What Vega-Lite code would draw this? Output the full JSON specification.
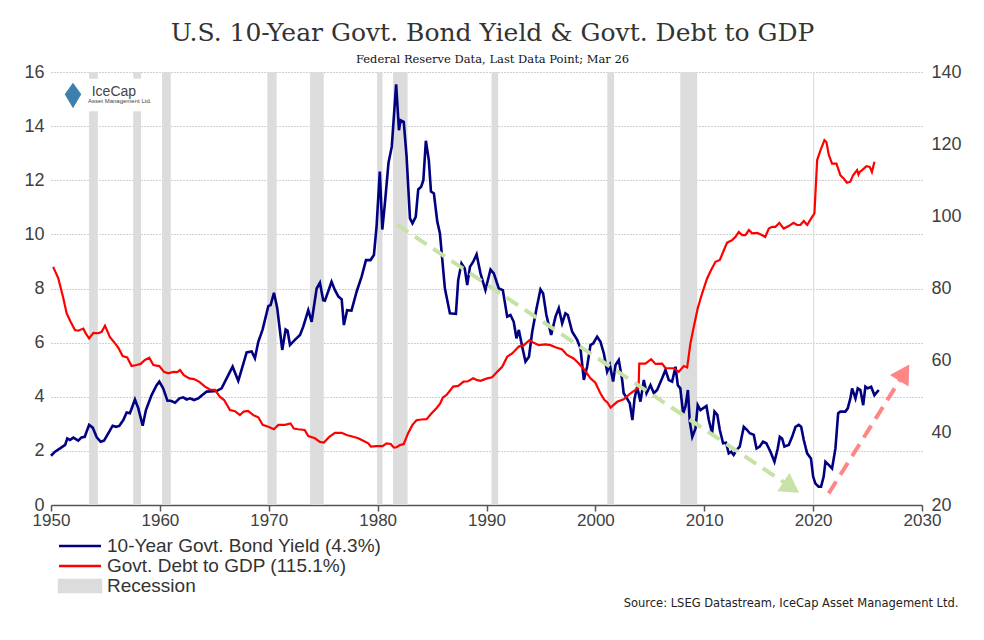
{
  "$schema": "https://vega.github.io/schema/vega-lite/v6.json",
  "width": 871,
  "height": 433,
  "autosize": "none",
  "padding": {"left": 51, "top": 72, "right": 62, "bottom": 135},
  "background": "white",
  "title": {
    "text": "U.S. 10-Year Govt. Bond Yield & Govt. Debt to GDP",
    "subtitle": "Federal Reserve Data, Last Data Point; Mar 26",
    "font": "DejaVu Serif",
    "fontSize": 25,
    "fontWeight": "normal",
    "color": "#333333",
    "subtitleFont": "DejaVu Serif",
    "subtitleFontSize": 11.5,
    "subtitleColor": "#111111",
    "subtitlePadding": 8,
    "anchor": "middle",
    "offset": -2,
    "dx": 6
  },
  "config": {"view": {"stroke": null}, "font": "Liberation Sans"},
  "datasets": {
    "recession": [
      {"start": 1953.5, "end": 1954.3},
      {"start": 1957.55, "end": 1958.27},
      {"start": 1960.2, "end": 1961.0},
      {"start": 1969.87, "end": 1970.72},
      {"start": 1973.8, "end": 1975.05},
      {"start": 1979.95, "end": 1980.45},
      {"start": 1981.42, "end": 1982.75},
      {"start": 1990.46, "end": 1991.07},
      {"start": 2001.1, "end": 2001.72},
      {"start": 2007.8, "end": 2009.35},
      {"start": 2020.0, "end": 2020.1}
    ],
    "yield": [
      {"year": 1950.0, "value": 1.82}, {"year": 1950.37, "value": 1.97}, {"year": 1950.83, "value": 2.09},
      {"year": 1951.3, "value": 2.22}, {"year": 1951.5, "value": 2.46}, {"year": 1951.74, "value": 2.40},
      {"year": 1952.05, "value": 2.49}, {"year": 1952.5, "value": 2.38}, {"year": 1952.8, "value": 2.5},
      {"year": 1953.1, "value": 2.52}, {"year": 1953.5, "value": 2.96}, {"year": 1953.83, "value": 2.86},
      {"year": 1954.2, "value": 2.5}, {"year": 1954.56, "value": 2.34}, {"year": 1954.87, "value": 2.38},
      {"year": 1955.26, "value": 2.65}, {"year": 1955.66, "value": 2.93}, {"year": 1955.97, "value": 2.89},
      {"year": 1956.27, "value": 2.92}, {"year": 1956.64, "value": 3.14}, {"year": 1956.95, "value": 3.42},
      {"year": 1957.25, "value": 3.39}, {"year": 1957.71, "value": 3.9}, {"year": 1958.02, "value": 3.57},
      {"year": 1958.42, "value": 2.93}, {"year": 1958.72, "value": 3.51}, {"year": 1959.24, "value": 4.06},
      {"year": 1959.7, "value": 4.43}, {"year": 1959.95, "value": 4.56}, {"year": 1960.3, "value": 4.31},
      {"year": 1960.7, "value": 3.85}, {"year": 1961.0, "value": 3.85}, {"year": 1961.4, "value": 3.78},
      {"year": 1961.8, "value": 3.94}, {"year": 1962.15, "value": 3.98}, {"year": 1962.46, "value": 3.9},
      {"year": 1962.77, "value": 3.94}, {"year": 1963.13, "value": 3.88}, {"year": 1963.53, "value": 3.94},
      {"year": 1964.3, "value": 4.19}, {"year": 1965.2, "value": 4.21}, {"year": 1965.67, "value": 4.31},
      {"year": 1966.28, "value": 4.8}, {"year": 1966.68, "value": 5.11}, {"year": 1967.2, "value": 4.59},
      {"year": 1967.5, "value": 4.99}, {"year": 1967.97, "value": 5.64}, {"year": 1968.43, "value": 5.67},
      {"year": 1968.73, "value": 5.42}, {"year": 1969.04, "value": 6.03}, {"year": 1969.44, "value": 6.49},
      {"year": 1969.96, "value": 7.35}, {"year": 1970.17, "value": 7.39}, {"year": 1970.48, "value": 7.84},
      {"year": 1970.78, "value": 7.27}, {"year": 1971.24, "value": 5.73}, {"year": 1971.55, "value": 6.49},
      {"year": 1971.73, "value": 6.44}, {"year": 1971.95, "value": 5.91}, {"year": 1972.4, "value": 6.1},
      {"year": 1972.87, "value": 6.28}, {"year": 1973.17, "value": 6.59}, {"year": 1973.63, "value": 7.2},
      {"year": 1973.94, "value": 6.77}, {"year": 1974.4, "value": 8.0}, {"year": 1974.7, "value": 8.21},
      {"year": 1975.0, "value": 7.57}, {"year": 1975.16, "value": 7.55}, {"year": 1975.77, "value": 8.25},
      {"year": 1976.08, "value": 7.94}, {"year": 1976.4, "value": 7.7}, {"year": 1976.7, "value": 7.6},
      {"year": 1976.9, "value": 6.65}, {"year": 1977.2, "value": 7.2}, {"year": 1977.6, "value": 7.18},
      {"year": 1978.07, "value": 7.88}, {"year": 1978.53, "value": 8.44}, {"year": 1978.93, "value": 9.05},
      {"year": 1979.35, "value": 9.05}, {"year": 1979.66, "value": 9.24}, {"year": 1979.9, "value": 10.28},
      {"year": 1980.2, "value": 12.32}, {"year": 1980.43, "value": 10.18}, {"year": 1980.67, "value": 11.15},
      {"year": 1981.0, "value": 12.65}, {"year": 1981.3, "value": 13.24}, {"year": 1981.7, "value": 15.54},
      {"year": 1981.96, "value": 13.85}, {"year": 1982.1, "value": 14.22}, {"year": 1982.4, "value": 14.16},
      {"year": 1982.66, "value": 12.87}, {"year": 1982.97, "value": 10.59}, {"year": 1983.2, "value": 10.41},
      {"year": 1983.5, "value": 10.65}, {"year": 1983.73, "value": 11.66}, {"year": 1984.0, "value": 11.76},
      {"year": 1984.2, "value": 12.0}, {"year": 1984.43, "value": 13.46}, {"year": 1984.7, "value": 12.75},
      {"year": 1984.9, "value": 11.58}, {"year": 1985.17, "value": 11.51}, {"year": 1985.48, "value": 10.47},
      {"year": 1985.72, "value": 10.04}, {"year": 1986.18, "value": 8.0}, {"year": 1986.64, "value": 7.08},
      {"year": 1987.19, "value": 7.06}, {"year": 1987.4, "value": 8.31}, {"year": 1987.7, "value": 8.93},
      {"year": 1988.0, "value": 8.74}, {"year": 1988.23, "value": 8.13}, {"year": 1988.48, "value": 8.8},
      {"year": 1988.78, "value": 8.99}, {"year": 1989.09, "value": 9.26}, {"year": 1989.45, "value": 8.56},
      {"year": 1989.9, "value": 7.94}, {"year": 1990.37, "value": 8.7}, {"year": 1990.67, "value": 8.56},
      {"year": 1991.13, "value": 8.0}, {"year": 1991.5, "value": 7.94}, {"year": 1991.9, "value": 6.96},
      {"year": 1992.2, "value": 7.02}, {"year": 1992.5, "value": 6.77}, {"year": 1992.75, "value": 6.16},
      {"year": 1992.97, "value": 6.47}, {"year": 1993.28, "value": 5.85}, {"year": 1993.58, "value": 5.3},
      {"year": 1993.9, "value": 5.48}, {"year": 1994.2, "value": 6.4}, {"year": 1994.6, "value": 7.27},
      {"year": 1994.96, "value": 7.97}, {"year": 1995.2, "value": 7.82}, {"year": 1995.5, "value": 7.02},
      {"year": 1995.94, "value": 6.28}, {"year": 1996.34, "value": 6.96}, {"year": 1996.64, "value": 7.27},
      {"year": 1996.95, "value": 6.71}, {"year": 1997.25, "value": 7.08}, {"year": 1997.47, "value": 7.02},
      {"year": 1997.87, "value": 6.4}, {"year": 1998.33, "value": 6.1}, {"year": 1998.63, "value": 5.79},
      {"year": 1998.94, "value": 4.62}, {"year": 1999.24, "value": 5.11}, {"year": 1999.55, "value": 5.91},
      {"year": 1999.8, "value": 5.97}, {"year": 2000.16, "value": 6.22}, {"year": 2000.47, "value": 6.03},
      {"year": 2000.78, "value": 5.6}, {"year": 2001.08, "value": 4.93}, {"year": 2001.33, "value": 5.17},
      {"year": 2001.63, "value": 4.56}, {"year": 2001.85, "value": 5.17}, {"year": 2002.15, "value": 5.36},
      {"year": 2002.46, "value": 4.62}, {"year": 2002.6, "value": 4.13}, {"year": 2002.9, "value": 3.94},
      {"year": 2003.16, "value": 3.76}, {"year": 2003.4, "value": 3.14}, {"year": 2003.6, "value": 3.94},
      {"year": 2003.84, "value": 4.37}, {"year": 2004.14, "value": 3.82}, {"year": 2004.45, "value": 4.62},
      {"year": 2004.7, "value": 4.13}, {"year": 2005.06, "value": 4.43}, {"year": 2005.37, "value": 4.13},
      {"year": 2005.67, "value": 4.25}, {"year": 2006.13, "value": 4.68}, {"year": 2006.44, "value": 4.99},
      {"year": 2006.74, "value": 4.62}, {"year": 2007.05, "value": 4.56}, {"year": 2007.36, "value": 5.11},
      {"year": 2007.57, "value": 4.43}, {"year": 2007.8, "value": 4.31}, {"year": 2008.06, "value": 3.39},
      {"year": 2008.27, "value": 3.63}, {"year": 2008.5, "value": 4.25}, {"year": 2008.67, "value": 3.08},
      {"year": 2008.9, "value": 2.52}, {"year": 2009.2, "value": 2.83}, {"year": 2009.4, "value": 3.69},
      {"year": 2009.65, "value": 3.51}, {"year": 2010.2, "value": 3.66}, {"year": 2010.42, "value": 3.14},
      {"year": 2010.72, "value": 2.65}, {"year": 2010.94, "value": 3.45}, {"year": 2011.2, "value": 3.33},
      {"year": 2011.43, "value": 2.77}, {"year": 2011.73, "value": 2.28}, {"year": 2012.0, "value": 2.3},
      {"year": 2012.25, "value": 1.91}, {"year": 2012.47, "value": 1.97}, {"year": 2012.7, "value": 1.85},
      {"year": 2012.96, "value": 2.03}, {"year": 2013.26, "value": 2.16}, {"year": 2013.63, "value": 2.89},
      {"year": 2013.94, "value": 2.77}, {"year": 2014.18, "value": 2.65}, {"year": 2014.55, "value": 2.59},
      {"year": 2014.8, "value": 2.09}, {"year": 2015.1, "value": 2.16}, {"year": 2015.4, "value": 2.34},
      {"year": 2015.7, "value": 2.28}, {"year": 2016.08, "value": 1.97}, {"year": 2016.45, "value": 1.6},
      {"year": 2016.75, "value": 2.09}, {"year": 2016.94, "value": 2.52}, {"year": 2017.15, "value": 2.46},
      {"year": 2017.36, "value": 2.16}, {"year": 2017.76, "value": 2.22}, {"year": 2018.07, "value": 2.52},
      {"year": 2018.38, "value": 2.89}, {"year": 2018.68, "value": 2.96}, {"year": 2018.9, "value": 2.89},
      {"year": 2019.14, "value": 2.4}, {"year": 2019.45, "value": 1.91}, {"year": 2019.8, "value": 1.72},
      {"year": 2020.0, "value": 1.05}, {"year": 2020.2, "value": 0.8}, {"year": 2020.5, "value": 0.68},
      {"year": 2020.73, "value": 0.68}, {"year": 2020.97, "value": 1.05}, {"year": 2021.13, "value": 1.6},
      {"year": 2021.43, "value": 1.48}, {"year": 2021.74, "value": 1.35}, {"year": 2022.05, "value": 2.09},
      {"year": 2022.3, "value": 3.39}, {"year": 2022.5, "value": 3.45}, {"year": 2022.96, "value": 3.45},
      {"year": 2023.18, "value": 3.57}, {"year": 2023.42, "value": 3.94}, {"year": 2023.58, "value": 4.31},
      {"year": 2023.89, "value": 3.94}, {"year": 2024.1, "value": 4.31}, {"year": 2024.34, "value": 4.25},
      {"year": 2024.6, "value": 3.69}, {"year": 2024.8, "value": 4.37}, {"year": 2025.0, "value": 4.31},
      {"year": 2025.33, "value": 4.37}, {"year": 2025.63, "value": 4.06}, {"year": 2026.03, "value": 4.25}
    ],
    "debt": [
      {"year": 1950.2, "value": 86.0}, {"year": 1950.67, "value": 82.8}, {"year": 1951.1, "value": 77.7},
      {"year": 1951.44, "value": 73.1}, {"year": 1951.8, "value": 70.8}, {"year": 1952.2, "value": 68.5},
      {"year": 1952.5, "value": 68.3}, {"year": 1952.97, "value": 68.9}, {"year": 1953.2, "value": 67.5},
      {"year": 1953.5, "value": 66.2}, {"year": 1953.9, "value": 67.7}, {"year": 1954.35, "value": 67.6},
      {"year": 1954.65, "value": 68.0}, {"year": 1954.96, "value": 69.7}, {"year": 1955.4, "value": 66.6},
      {"year": 1955.88, "value": 64.8}, {"year": 1956.18, "value": 63.6}, {"year": 1956.58, "value": 61.3},
      {"year": 1957.0, "value": 60.9}, {"year": 1957.4, "value": 58.5}, {"year": 1957.87, "value": 58.8},
      {"year": 1958.23, "value": 59.1}, {"year": 1958.63, "value": 60.2}, {"year": 1959.03, "value": 60.8},
      {"year": 1959.4, "value": 58.8}, {"year": 1959.95, "value": 58.5}, {"year": 1960.38, "value": 56.9},
      {"year": 1960.77, "value": 56.5}, {"year": 1961.23, "value": 56.9}, {"year": 1961.6, "value": 56.8},
      {"year": 1961.85, "value": 57.4}, {"year": 1962.2, "value": 56.0}, {"year": 1962.7, "value": 55.1},
      {"year": 1963.13, "value": 54.9}, {"year": 1963.6, "value": 54.2}, {"year": 1964.14, "value": 52.8},
      {"year": 1964.6, "value": 52.0}, {"year": 1965.06, "value": 51.9}, {"year": 1965.5, "value": 50.0},
      {"year": 1965.9, "value": 49.1}, {"year": 1966.44, "value": 46.3}, {"year": 1966.9, "value": 46.0},
      {"year": 1967.35, "value": 44.9}, {"year": 1967.7, "value": 45.9}, {"year": 1968.1, "value": 46.1},
      {"year": 1968.58, "value": 44.9}, {"year": 1969.04, "value": 44.3}, {"year": 1969.44, "value": 42.2},
      {"year": 1969.96, "value": 41.7}, {"year": 1970.48, "value": 41.0}, {"year": 1970.88, "value": 42.2},
      {"year": 1971.5, "value": 42.2}, {"year": 1972.0, "value": 42.6}, {"year": 1972.3, "value": 41.2},
      {"year": 1972.7, "value": 41.0}, {"year": 1973.3, "value": 40.8}, {"year": 1973.63, "value": 39.1},
      {"year": 1974.24, "value": 38.5}, {"year": 1974.7, "value": 37.5}, {"year": 1975.07, "value": 37.3},
      {"year": 1975.56, "value": 38.9}, {"year": 1976.08, "value": 40.0}, {"year": 1976.7, "value": 40.0},
      {"year": 1977.15, "value": 39.4}, {"year": 1977.76, "value": 38.9}, {"year": 1978.22, "value": 38.5},
      {"year": 1978.68, "value": 37.8}, {"year": 1979.14, "value": 37.1}, {"year": 1979.38, "value": 36.2},
      {"year": 1979.9, "value": 36.3}, {"year": 1980.46, "value": 36.3}, {"year": 1980.82, "value": 37.1},
      {"year": 1981.2, "value": 36.9}, {"year": 1981.5, "value": 35.9}, {"year": 1981.74, "value": 36.0},
      {"year": 1982.05, "value": 36.6}, {"year": 1982.4, "value": 36.9}, {"year": 1982.8, "value": 39.9},
      {"year": 1983.2, "value": 42.2}, {"year": 1983.57, "value": 43.5}, {"year": 1984.0, "value": 43.7},
      {"year": 1984.5, "value": 43.8}, {"year": 1984.96, "value": 45.4}, {"year": 1985.4, "value": 46.8},
      {"year": 1985.72, "value": 48.0}, {"year": 1986.0, "value": 49.8}, {"year": 1986.33, "value": 50.5},
      {"year": 1986.94, "value": 52.8}, {"year": 1987.4, "value": 53.0}, {"year": 1987.9, "value": 54.2},
      {"year": 1988.3, "value": 54.3}, {"year": 1988.78, "value": 55.1}, {"year": 1989.15, "value": 54.6},
      {"year": 1989.45, "value": 54.4}, {"year": 1990.06, "value": 55.1}, {"year": 1990.52, "value": 55.4},
      {"year": 1990.98, "value": 56.9}, {"year": 1991.44, "value": 58.3}, {"year": 1991.9, "value": 61.1},
      {"year": 1992.36, "value": 62.0}, {"year": 1992.97, "value": 63.9}, {"year": 1993.43, "value": 64.3},
      {"year": 1993.95, "value": 65.7}, {"year": 1994.29, "value": 65.0}, {"year": 1994.8, "value": 64.3},
      {"year": 1995.42, "value": 64.5}, {"year": 1995.88, "value": 64.3}, {"year": 1996.34, "value": 63.7},
      {"year": 1996.95, "value": 63.1}, {"year": 1997.4, "value": 61.6}, {"year": 1998.0, "value": 60.6},
      {"year": 1998.48, "value": 59.2}, {"year": 1999.0, "value": 57.4}, {"year": 1999.55, "value": 55.1},
      {"year": 2000.0, "value": 53.9}, {"year": 2000.47, "value": 50.9}, {"year": 2000.84, "value": 49.1},
      {"year": 2001.1, "value": 48.4}, {"year": 2001.4, "value": 47.0}, {"year": 2002.0, "value": 48.6},
      {"year": 2002.6, "value": 49.3}, {"year": 2003.2, "value": 50.9}, {"year": 2003.68, "value": 51.9},
      {"year": 2003.97, "value": 52.6}, {"year": 2004.03, "value": 59.2}, {"year": 2004.6, "value": 59.2},
      {"year": 2005.12, "value": 60.4}, {"year": 2005.52, "value": 59.1}, {"year": 2006.13, "value": 59.2},
      {"year": 2006.44, "value": 57.9}, {"year": 2007.2, "value": 57.9}, {"year": 2007.66, "value": 56.9},
      {"year": 2008.12, "value": 58.5}, {"year": 2008.43, "value": 58.1}, {"year": 2008.73, "value": 64.8},
      {"year": 2009.04, "value": 69.4}, {"year": 2009.4, "value": 74.5}, {"year": 2009.8, "value": 78.6},
      {"year": 2010.26, "value": 82.8}, {"year": 2010.63, "value": 85.1}, {"year": 2011.03, "value": 87.4},
      {"year": 2011.43, "value": 87.9}, {"year": 2011.8, "value": 90.6}, {"year": 2012.1, "value": 92.7},
      {"year": 2012.56, "value": 93.4}, {"year": 2012.87, "value": 94.3}, {"year": 2013.17, "value": 95.7},
      {"year": 2013.48, "value": 94.8}, {"year": 2013.78, "value": 94.8}, {"year": 2014.1, "value": 96.2},
      {"year": 2014.4, "value": 95.3}, {"year": 2014.86, "value": 95.4}, {"year": 2015.3, "value": 94.8},
      {"year": 2015.6, "value": 94.3}, {"year": 2015.93, "value": 96.6}, {"year": 2016.23, "value": 97.1},
      {"year": 2016.54, "value": 97.1}, {"year": 2016.9, "value": 98.2}, {"year": 2017.3, "value": 96.6},
      {"year": 2017.76, "value": 97.3}, {"year": 2018.2, "value": 98.2}, {"year": 2018.53, "value": 97.6},
      {"year": 2018.83, "value": 97.6}, {"year": 2019.14, "value": 98.7}, {"year": 2019.45, "value": 97.6},
      {"year": 2019.75, "value": 99.1}, {"year": 2020.12, "value": 100.8}, {"year": 2020.37, "value": 115.6},
      {"year": 2020.67, "value": 118.3}, {"year": 2021.04, "value": 121.1}, {"year": 2021.22, "value": 120.6},
      {"year": 2021.44, "value": 117.0}, {"year": 2021.74, "value": 114.6}, {"year": 2022.14, "value": 114.6},
      {"year": 2022.5, "value": 111.4}, {"year": 2022.8, "value": 110.5}, {"year": 2023.1, "value": 109.3},
      {"year": 2023.42, "value": 109.6}, {"year": 2023.67, "value": 111.4}, {"year": 2024.04, "value": 112.8},
      {"year": 2024.17, "value": 111.6}, {"year": 2024.28, "value": 112.3}, {"year": 2024.5, "value": 112.8},
      {"year": 2024.9, "value": 113.9}, {"year": 2025.2, "value": 113.7}, {"year": 2025.4, "value": 112.3},
      {"year": 2025.63, "value": 115.1}
    ],
    "arrows": [
      {"arrow": "down", "year": 1981.74, "value": 10.37},
      {"arrow": "down", "year": 2017.46, "value": 0.8},
      {"arrow": "up", "year": 2021.43, "value": 0.43},
      {"arrow": "up", "year": 2028.03, "value": 4.66}
    ],
    "heads": [
      {"arrow": "down", "year": 2017.99, "value": 0.65},
      {"arrow": "up", "year": 2028.37, "value": 4.89}
    ],
    "logoBox": [{"x1": 1950.6, "x2": 1959.6, "y1": 14.55, "y2": 15.75}],
    "logoIcon": [{"year": 1952.02, "value": 15.13}],
    "logoText": [
      {"year": 1953.74, "value": 15.26, "text": "IceCap", "kind": "big"},
      {"year": 1953.4, "value": 14.91, "text": "Asset Management Ltd.", "kind": "small"}
    ]
  },
  "layer": [
    {
      "data": {"name": "recession"},
      "mark": {"type": "rect"},
      "encoding": {
        "x": {
          "field": "start",
          "type": "quantitative",
          "scale": {"domain": [1950, 2030], "nice": false, "zero": false},
          "axis": {
            "title": "Source: LSEG Datastream, IceCap Asset Management Ltd.",
            "titleFont": "DejaVu Sans",
            "titleFontSize": 11.5,
            "titleFontWeight": "normal",
            "titleColor": "#222222",
            "titleAlign": "right",
            "titleBaseline": "middle",
            "titleX": 907,
            "titleY": 98,
            "values": [1950, 1960, 1970, 1980, 1990, 2000, 2010, 2020, 2030],
            "format": "d",
            "labelFontSize": 17,
            "labelColor": "#404040",
            "labelFlush": false,
            "labelPadding": 1,
            "domainColor": "#555555",
            "domainWidth": 1.5,
            "tickColor": "#555555",
            "tickSize": 6,
            "tickWidth": 1.5,
            "grid": false
          }
        },
        "x2": {"field": "end"},
        "color": {
          "datum": "Recession",
          "scale": {
            "domain": ["10-Year Govt. Bond Yield (4.3%)", "Govt. Debt to GDP (115.1%)", "Recession"],
            "range": ["#000080", "#ff0000", "#dcdcdc"]
          },
          "legend": {
            "title": null,
            "orient": "none",
            "legendX": 19,
            "legendY": 464,
            "direction": "vertical",
            "padding": 0,
            "labelFont": "Liberation Sans",
            "labelFontSize": 19,
            "labelColor": "#333333",
            "labelOffset": 17,
            "labelLimit": 500,
            "symbolSize": 282,
            "rowPadding": -5,
            "encode": {
              "symbols": {
                "update": {
                  "shape": {"signal": "datum.value === 'Recession' ? 'M-2.5,-0.72H2.5V0.72H-2.5Z' : 'M-2.5,0H2.5'"},
                  "fill": {"signal": "datum.value === 'Recession' ? '#dcdcdc' : 'transparent'"},
                  "stroke": {"signal": "indexof(datum.value, 'Yield') >= 0 ? '#000080' : (indexof(datum.value, 'Debt') >= 0 ? '#ff0000' : 'transparent')"},
                  "strokeWidth": {"value": 2.5},
                  "opacity": {"value": 1},
                  "fillOpacity": {"value": 1}
                }
              }
            }
          }
        }
      }
    },
    {
      "data": {"name": "logoBox"},
      "mark": {"type": "rect", "color": "white"},
      "encoding": {
        "x": {"field": "x1", "type": "quantitative", "scale": {"domain": [1950, 2030], "nice": false, "zero": false}},
        "x2": {"field": "x2"},
        "y": {"field": "y1", "type": "quantitative", "scale": {"domain": [0, 16], "nice": false}, "axis": null},
        "y2": {"field": "y2"}
      }
    },
    {
      "data": {"name": "logoIcon"},
      "mark": {"type": "point", "shape": "M0,-1L0.65,-0.1L0,1L-0.65,-0.1Z", "filled": true, "color": "#3f7fae", "size": 650, "opacity": 1},
      "encoding": {
        "x": {"field": "year", "type": "quantitative", "scale": {"domain": [1950, 2030], "nice": false, "zero": false}},
        "y": {"field": "value", "type": "quantitative", "scale": {"domain": [0, 16], "nice": false}, "axis": null}
      }
    },
    {
      "data": {"name": "logoText"},
      "mark": {"type": "text", "align": "left", "baseline": "middle", "font": "Liberation Sans", "color": "#444444"},
      "encoding": {
        "x": {"field": "year", "type": "quantitative", "scale": {"domain": [1950, 2030], "nice": false, "zero": false}},
        "y": {"field": "value", "type": "quantitative", "scale": {"domain": [0, 16], "nice": false}, "axis": null},
        "text": {"field": "text"},
        "size": {"field": "kind", "type": "nominal", "scale": {"domain": ["big", "small"], "range": [14, 6]}, "legend": null}
      }
    },
    {
      "data": {"name": "yield"},
      "mark": {"type": "line", "strokeWidth": 2.6},
      "encoding": {
        "x": {"field": "year", "type": "quantitative", "scale": {"domain": [1950, 2030], "nice": false, "zero": false}},
        "y": {
          "field": "value",
          "type": "quantitative",
          "scale": {"domain": [0, 16], "nice": false},
          "axis": {
            "orient": "left",
            "title": null,
            "values": [0, 2, 4, 6, 8, 10, 12, 14, 16],
            "domain": false,
            "ticks": false,
            "grid": true,
            "gridDash": [1, 2],
            "gridColor": "#a0a0a0",
            "gridWidth": 1,
            "labelFontSize": 18,
            "labelColor": "#404040",
            "labelPadding": 7
          }
        },
        "color": {"datum": "10-Year Govt. Bond Yield (4.3%)"}
      }
    },
    {
      "data": {"name": "debt"},
      "mark": {"type": "line", "strokeWidth": 2.2},
      "encoding": {
        "x": {"field": "year", "type": "quantitative", "scale": {"domain": [1950, 2030], "nice": false, "zero": false}},
        "y": {
          "field": "value",
          "type": "quantitative",
          "scale": {"domain": [20, 140], "nice": false, "zero": false},
          "axis": {
            "orient": "right",
            "title": null,
            "values": [20, 40, 60, 80, 100, 120, 140],
            "domain": false,
            "ticks": false,
            "grid": false,
            "labelFontSize": 18,
            "labelColor": "#404040",
            "labelPadding": 9
          }
        },
        "color": {"datum": "Govt. Debt to GDP (115.1%)"}
      }
    },
    {
      "data": {"name": "arrows"},
      "transform": [{"filter": "datum.arrow === 'down'"}],
      "mark": {"type": "line", "color": "#c6e2a6", "strokeWidth": 4, "strokeDash": [14, 8]},
      "encoding": {
        "x": {"field": "year", "type": "quantitative", "scale": {"domain": [1950, 2030], "nice": false, "zero": false}},
        "y": {"field": "value", "type": "quantitative", "scale": {"domain": [0, 16], "nice": false}, "axis": null}
      }
    },
    {
      "data": {"name": "arrows"},
      "transform": [{"filter": "datum.arrow === 'up'"}],
      "mark": {"type": "line", "color": "#ff8686", "strokeWidth": 4, "strokeDash": [14, 8]},
      "encoding": {
        "x": {"field": "year", "type": "quantitative", "scale": {"domain": [1950, 2030], "nice": false, "zero": false}},
        "y": {"field": "value", "type": "quantitative", "scale": {"domain": [0, 16], "nice": false}, "axis": null}
      }
    },
    {
      "data": {"name": "heads"},
      "transform": [{"filter": "datum.arrow === 'down'"}],
      "mark": {"type": "point", "shape": "triangle-right", "filled": true, "color": "#c6e2a6", "opacity": 1, "size": 480, "angle": 33.7},
      "encoding": {
        "x": {"field": "year", "type": "quantitative", "scale": {"domain": [1950, 2030], "nice": false, "zero": false}},
        "y": {"field": "value", "type": "quantitative", "scale": {"domain": [0, 16], "nice": false}, "axis": null}
      }
    },
    {
      "data": {"name": "heads"},
      "transform": [{"filter": "datum.arrow === 'up'"}],
      "mark": {"type": "point", "shape": "triangle-right", "filled": true, "color": "#ff8686", "opacity": 1, "size": 480, "angle": -58.1},
      "encoding": {
        "x": {"field": "year", "type": "quantitative", "scale": {"domain": [1950, 2030], "nice": false, "zero": false}},
        "y": {"field": "value", "type": "quantitative", "scale": {"domain": [0, 16], "nice": false}, "axis": null}
      }
    }
  ],
  "resolve": {"scale": {"y": "independent", "size": "independent"}}
}
